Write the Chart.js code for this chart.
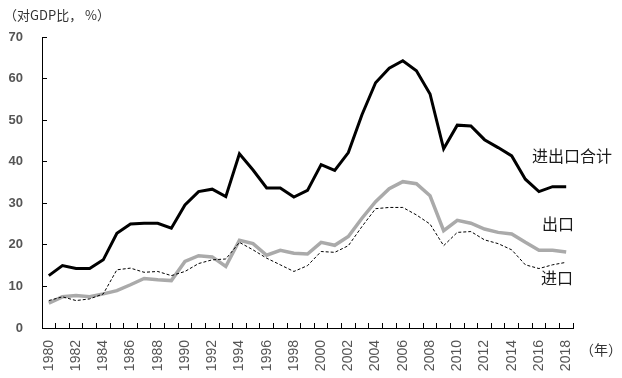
<!DOCTYPE html>
<html>
<head>
<meta charset="utf-8">
<script src="https://cdn.jsdelivr.net/npm/chart.js@4/dist/chart.umd.min.js"></script>
<style>
  html, body { margin: 0; padding: 0; background: #fff; }
  canvas { display: block; }
</style>
</head>
<body>
<canvas id="chart" width="622" height="378"></canvas>
<script>
// 年份
const years = ['1980','1981','1982','1983','1984','1985','1986','1987','1988','1989',
  '1990','1991','1992','1993','1994','1995','1996','1997','1998','1999',
  '2000','2001','2002','2003','2004','2005','2006','2007','2008','2009',
  '2010','2011','2012','2013','2014','2015','2016','2017','2018'];

// 进出口合计（对GDP比，%）
const totalTrade = [12.6, 15.0, 14.3, 14.3, 16.4, 22.8, 25.0, 25.2, 25.2, 24.0,
  29.6, 32.8, 33.4, 31.6, 41.9, 38.0, 33.7, 33.7, 31.5, 33.1,
  39.3, 37.9, 42.2, 51.3, 59.0, 62.5, 64.3, 61.9, 56.3, 43.1,
  48.8, 48.6, 45.3, 43.4, 41.4, 35.8, 32.8, 34.0, 34.0];

// 出口
const exports = [6.0, 7.5, 7.8, 7.5, 8.2, 9.0, 10.4, 11.9, 11.6, 11.4,
  16.0, 17.4, 17.1, 14.8, 21.1, 20.3, 17.5, 18.7, 18.0, 17.8,
  20.6, 19.9, 22.0, 26.4, 30.4, 33.5, 35.2, 34.7, 31.8, 23.4,
  25.9, 25.2, 23.8, 23.0, 22.6, 20.6, 18.7, 18.7, 18.3];

// 进口
const imports = [6.6, 7.5, 6.6, 7.0, 8.2, 14.0, 14.4, 13.4, 13.6, 12.6,
  13.6, 15.5, 16.4, 16.6, 20.6, 18.8, 16.8, 15.2, 13.6, 15.0,
  18.4, 18.2, 19.8, 24.4, 28.7, 29.0, 29.0, 27.2, 25.0, 19.8,
  23.0, 23.2, 21.2, 20.3, 18.8, 15.2, 14.3, 15.2, 15.8];

const xTickLabels = ['1980','1982','1984','1986','1988','1990','1992','1994','1996','1998',
  '2000','2002','2004','2006','2008','2010','2012','2014','2016','2018'];
const yTicks = [0, 10, 20, 30, 40, 50, 60, 70];

const cjk = '"Noto Sans CJK SC", "Noto Sans", sans-serif';

const textPlugin = {
  id: 'texts',
  afterDraw(chart) {
    const ctx = chart.ctx;
    ctx.save();
    ctx.fillStyle = '#333';
    ctx.textBaseline = 'middle';
    ctx.textAlign = 'left';
    ctx.font = '13px ' + cjk;
    ctx.fillText('（对GDP比， %）', 4, 15);
    ctx.font = '14px ' + cjk;
    ctx.fillText('（年）', 580, 350);
    ctx.fillStyle = '#1a1a1a';
    ctx.font = '16px ' + cjk;
    ctx.fillText('进出口合计', 532, 156);
    ctx.fillText('出口', 542, 224);
    ctx.fillText('进口', 541, 278);
    ctx.restore();
  }
};

new Chart(document.getElementById('chart'), {
  type: 'line',
  data: {
    labels: years,
    datasets: [
      {
        label: '进出口合计',
        data: totalTrade,
        borderColor: '#000',
        borderWidth: 3,
        pointRadius: 0,
        tension: 0,
        order: 1
      },
      {
        label: '进口',
        data: imports,
        borderColor: '#000',
        borderWidth: 1,
        borderDash: [3, 2],
        pointRadius: 0,
        tension: 0,
        order: 2
      },
      {
        label: '出口',
        data: exports,
        borderColor: '#aaaaaa',
        borderWidth: 3.5,
        pointRadius: 0,
        tension: 0,
        order: 3
      }
    ]
  },
  options: {
    responsive: false,
    animation: false,
    layout: { padding: { left: 0, right: 49, top: 37, bottom: 0 } },
    plugins: { legend: { display: false }, tooltip: { enabled: false } },
    scales: {
      x: {
        type: 'category',
        offset: true,
        grid: { offset: true, drawOnChartArea: false, tickLength: -5, color: '#000' },
        border: { display: true, color: '#000', width: 1 },
        ticks: {
          autoSkip: false,
          minRotation: 90,
          maxRotation: 90,
          padding: 17,
          color: '#555',
          font: { family: '"Liberation Sans", Arial, sans-serif', size: 14 },
          callback: function (v, i) {
            const lab = years[i];
            return xTickLabels.includes(lab) ? lab : '';
          }
        },
        afterFit(scale) { scale.height = 50; }
      },
      y: {
        min: 0,
        max: 70,
        afterBuildTicks(scale) { scale.ticks = yTicks.map(v => ({ value: v })); },
        grid: { drawOnChartArea: false, tickLength: -5, color: '#000' },
        border: { display: true, color: '#000', width: 1 },
        ticks: {
          padding: 24,
          color: '#555',
          font: { family: '"Liberation Sans", Arial, sans-serif', size: 13, weight: 'bold' }
        },
        afterFit(scale) { scale.width = 42; }
      }
    }
  },
  plugins: [textPlugin]
});
</script>
</body>
</html>
